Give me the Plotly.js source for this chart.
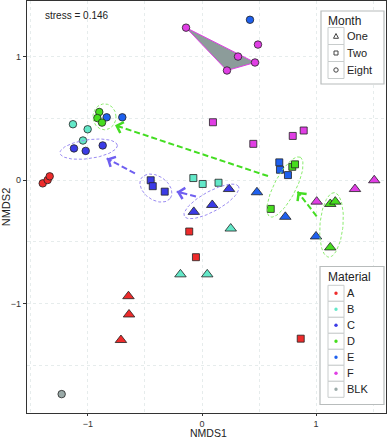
<!DOCTYPE html>
<html>
<head>
<meta charset="utf-8">
<script src="https://cdn.plot.ly/plotly-3.0.1.min.js"></script>
<style>
  html, body { margin: 0; padding: 0; background: #fff; }
  #plot { width: 392px; height: 440px; }
</style>
</head>
<body>
<div id="plot"></div>
<script>
// categorías
const materials = ["A", "B", "C", "D", "E", "F", "BLK"];
const materialColors = ["#ee2b2b", "#62e8c8", "#3b3be6", "#46dd1e", "#1e60ee", "#e03ee4", "#9aaaa8"];
const months = ["One", "Two", "Eight"];
const monthSymbols = ["triangle-up", "square", "circle"];

// Month = One (triángulos)
const oneMat = ["C", "C", "C", "E", "E", "E", "F", "F", "F", "D", "D", "D", "B", "B", "B", "A", "A", "A"];
const oneX = [-0.072, 0.090, 0.237, 0.482, 0.731, 1.000, 1.006, 1.342, 1.511, 1.125, 1.169, 1.125, 0.252, -0.189, 0.046, -0.645, -0.640, -0.711];
const oneY = [-0.258, -0.202, -0.073, -0.099, -0.298, -0.457, -0.175, -0.073, -0.002, -0.194, -0.175, -0.546, -0.393, -0.764, -0.764, -0.941, -1.089, -1.296];

// Month = Two (cuadrados)
const twoMat = ["C", "C", "C", "B", "B", "B", "E", "E", "E", "D", "D", "D", "F", "F", "F", "F", "A", "A", "A"];
const twoX = [-0.450, -0.432, -0.327, -0.076, 0.006, 0.145, 0.678, 0.684, 0.754, 0.792, 0.816, 0.603, 0.450, 0.796, 0.892, 0.096, -0.112, -0.053, 0.866];
const twoY = [-0.002, -0.050, -0.094, 0.016, -0.032, -0.022, 0.143, 0.083, 0.040, 0.107, 0.127, -0.234, 0.293, 0.357, 0.401, 0.468, -0.417, -0.625, -1.285];

// Month = Eight (círculos)
const eightMat = ["F", "F", "F", "F", "F", "E", "E", "E", "D", "D", "D", "B", "B", "B", "C", "C", "C", "A", "A", "A", "BLK"];
const eightX = [-0.140, 0.491, 0.316, 0.465, 0.219, 0.421, -0.836, -0.699, -0.901, -0.918, -0.877, -1.132, -1.003, -1.044, -1.123, -1.020, -0.871, -1.397, -1.354, -1.336, -1.231];
const eightY = [1.234, 1.097, 1.000, 0.952, 0.887, 1.298, 0.508, 0.508, 0.551, 0.502, 0.465, 0.452, 0.411, 0.320, 0.256, 0.236, 0.280, -0.027, 0.000, 0.030, -1.734];

// envolvente del grupo F (mes ocho)
const hullX = [-0.140, 0.465, 0.219, -0.140];
const hullY = [1.234, 0.952, 0.887, 1.234];

// elipses: centro, semiejes (unidades de NMDS1), ángulo en grados
const ellCx = [-0.855, -0.994, -0.404, 0.083, 0.728, 1.136];
const ellCy = [0.512, 0.250, -0.065, -0.173, -0.056, -0.363];
const ellA = [0.101, 0.254, 0.155, 0.272, 0.294, 0.285];
const ellB = [0.114, 0.083, 0.105, 0.088, 0.096, 0.101];
const ellAng = [0, 8, -35, 29, 63, 85];
const ellMat = ["D", "C", "C", "C", "D", "D"];

// flechas: origen -> destino
const arrX0 = [0.579, 1.006, -0.053, -0.588];
const arrY0 = [0.032, -0.294, -0.133, 0.054];
const arrX1 = [-0.763, 0.838, -0.222, -0.836];
const arrY1 = [0.444, -0.094, -0.094, 0.175];
const arrMat = ["D", "D", "C", "C"];

const colorOf = (m) => materialColors[materials.indexOf(m)];
const lineColors = { D: "#44dd22", C: "#6f5ff0" };
const ringColors = { D: "#8cec70", C: "#9b8cf2" };
const kx = 114, ky = 124; // px por unidad (aprox.)

const W = 392, H = 440;
const M = { l: 27, r: 6, t: 1, b: 27 };
// pixel -> paper
const px = (x) => (x - M.l) / (W - M.l - M.r);
const py = (y) => 1 - (y - M.t) / (H - M.t - M.b);

const traces = [];

// polígono
traces.push({
  x: hullX, y: hullY, mode: "lines", fill: "toself",
  fillcolor: "#8c9c9a", line: { color: "#e03ee4", width: 1 },
  hoverinfo: "skip", showlegend: false,
});

const groups = [
  [oneX, oneY, oneMat, 0, 10],
  [twoX, twoY, twoMat, 1, 7],
  [eightX, eightY, eightMat, 2, 7.5],
];
groups.forEach(([xs, ys, ms, k, size]) => {
  traces.push({
    x: xs, y: ys, mode: "markers", type: "scatter", showlegend: false,
    marker: {
      symbol: monthSymbols[k], size: size,
      color: ms.map(colorOf),
      line: { color: "#222", width: 0.8 },
    },
  });
});

// elipses
ellCx.forEach((cx, i) => {
  const ex = [], ey = [];
  const r = (ellAng[i] * Math.PI) / 180;
  for (let t = 0; t <= 72; t++) {
    const a = (t / 72) * 2 * Math.PI;
    const u = ellA[i] * Math.cos(a), v = ellB[i] * Math.sin(a);
    ex.push(cx + u * Math.cos(r) - v * Math.sin(r));
    ey.push(ellCy[i] + (u * Math.sin(r) + v * Math.cos(r)) * kx / ky);
  }
  traces.push({
    x: ex, y: ey, mode: "lines", hoverinfo: "skip", showlegend: false,
    line: { color: ringColors[ellMat[i]], width: 1, dash: "3px,2px" },
  });
});

// flechas (línea discontinua)
const annotations = [];
arrX0.forEach((x0, i) => {
  traces.push({
    x: [x0, arrX1[i]], y: [arrY0[i], arrY1[i]], mode: "lines",
    hoverinfo: "skip", showlegend: false,
    line: { color: lineColors[arrMat[i]], width: 2, dash: "6px,3px" },
  });
  const dx = (x0 - arrX1[i]) * kx, dy = -(arrY0[i] - arrY1[i]) * ky;
  const len = Math.sqrt(dx * dx + dy * dy);
  annotations.push({
    x: arrX1[i], y: arrY1[i], xref: "x", yref: "y",
    ax: (dx / len) * 7, ay: (dy / len) * 7,
    showarrow: true, arrowhead: 4, arrowsize: 1.1, arrowwidth: 2,
    arrowcolor: lineColors[arrMat[i]], text: "",
  });
});

annotations.push({
  xref: "paper", yref: "paper", x: px(43), y: py(16), xanchor: "left", yanchor: "middle",
  text: "stress = 0.146", showarrow: false, font: { size: 10, color: "#222" },
});

// título del eje x como anotación (justo debajo de las etiquetas)
annotations.push({
  xref: "paper", yref: "paper", x: px(208), y: py(440), xanchor: "center", yanchor: "bottom",
  text: "NMDS1", showarrow: false, font: { size: 10.5, color: "#222" }, borderpad: 0,
});

// leyendas dibujadas a mano (estilo ggplot)
const shapes = [];
const txt = (x, y, text, size) => ({
  xref: "paper", yref: "paper", x: px(x), y: py(y), xanchor: "left", yanchor: "middle",
  text: text, showarrow: false, font: { size: size, color: "#222" },
});
const keyBox = (yc, h) => ({
  type: "rect", xref: "paper", yref: "paper", layer: "above",
  x0: px(328), x1: px(344), y0: py(yc - h / 2), y1: py(yc + h / 2),
  line: { color: "#c8cccc", width: 1 }, fillcolor: "#fff",
});

// Month
shapes.push({
  type: "rect", xref: "paper", yref: "paper", layer: "above",
  x0: px(321), x1: px(384), y0: py(11), y1: py(84),
  line: { color: "#b8bcbc", width: 1.2 }, fillcolor: "#fff",
});
annotations.push(txt(326, 21, "Month", 12));
months.forEach((m, k) => {
  const yc = 36 + k * 17;
  shapes.push(keyBox(yc, 17));
  if (k === 0) {
    shapes.push({
      type: "path", xref: "paper", yref: "paper", layer: "above",
      path: `M${px(333.5)},${py(yc + 2.3)} L${px(338.5)},${py(yc + 2.3)} L${px(336)},${py(yc - 2.5)} Z`,
      line: { color: "#444", width: 1 },
    });
  } else if (k === 1) {
    shapes.push({
      type: "rect", xref: "paper", yref: "paper", layer: "above",
      x0: px(334), x1: px(338), y0: py(yc - 2), y1: py(yc + 2),
      line: { color: "#444", width: 1 },
    });
  } else {
    shapes.push({
      type: "circle", xref: "paper", yref: "paper", layer: "above",
      x0: px(333.8), x1: px(338.2), y0: py(yc - 2.2), y1: py(yc + 2.2),
      line: { color: "#444", width: 1 },
    });
  }
  annotations.push(txt(345, yc, m, 11));
});

// Material
shapes.push({
  type: "rect", xref: "paper", yref: "paper", layer: "above",
  x0: px(320), x1: px(384), y0: py(266.5), y1: py(404.5),
  line: { color: "#b8bcbc", width: 1.2 }, fillcolor: "#fff",
});
annotations.push(txt(326, 277, "Material", 12));
materials.forEach((m, k) => {
  const yc = 293.3 + k * 16;
  shapes.push(keyBox(yc, 16));
  shapes.push({
    type: "circle", xref: "paper", yref: "paper", layer: "above",
    x0: px(334.3), x1: px(337.7), y0: py(yc - 1.7), y1: py(yc + 1.7),
    line: { width: 0 }, fillcolor: materialColors[k],
  });
  annotations.push(txt(345, yc, m, 11));
});

const gridStyle = { gridcolor: "#e6ecec", griddash: "dot" };
const axisBase = {
  zeroline: false, showline: true, mirror: true, linecolor: "#333", linewidth: 1.2,
  ticks: "outside", ticklen: 3, tickcolor: "#333", tickwidth: 1,
  dtick: 1, tickfont: { size: 9, color: "#333" },
  showgrid: true, ...gridStyle,
  minor: { dtick: 0.5, showgrid: true, ...gridStyle },
};

const layout = {
  width: W, height: H,
  margin: M,
  paper_bgcolor: "#fff", plot_bgcolor: "#fff",
  font: { family: "Liberation Sans, Arial, sans-serif", color: "#222" },
  showlegend: false,
  xaxis: { ...axisBase, ticklen: 2, range: [-1.535, 1.614] },
  yaxis: {
    ...axisBase, range: [-1.887, 1.45],
    title: { text: "NMDS2", font: { size: 11 }, standoff: 4 },
  },
  shapes: shapes,
  annotations: annotations,
};

Plotly.newPlot("plot", traces, layout, { displayModeBar: false, staticPlot: true });
</script>
</body>
</html>
